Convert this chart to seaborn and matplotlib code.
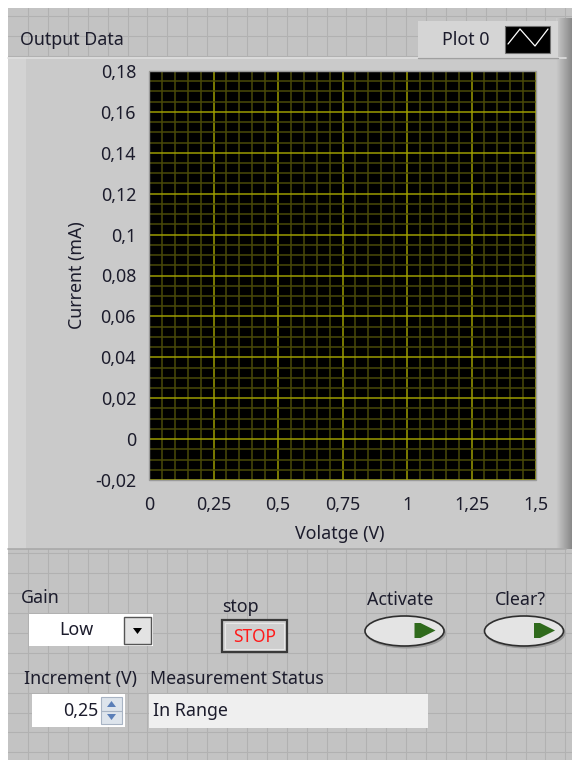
import numpy as np
import pandas as pd
import matplotlib
matplotlib.use("Agg")
import matplotlib.pyplot as plt
import seaborn as sns
from matplotlib.patches import Rectangle, Ellipse, Polygon
from matplotlib.ticker import MultipleLocator

# --- data (graph is empty: no points acquired yet) ---
voltage = []
current = []
x_ticks = [0, 0.25, 0.5, 0.75, 1.0, 1.25, 1.5]
x_labels = ["0", "0,25", "0,5", "0,75", "1", "1,25", "1,5"]
y_ticks = [-0.02, 0, 0.02, 0.04, 0.06, 0.08, 0.1, 0.12, 0.14, 0.16, 0.18]
y_labels = ["-0,02", "0", "0,02", "0,04", "0,06", "0,08", "0,1",
            "0,12", "0,14", "0,16", "0,18"]
graph_title = "Output Data"
legend_name = "Plot 0"
x_title = "Volatge (V)"
y_title = "Current (mA)"
gain_value = "Low"
increment_value = "0,25"
status_text = "In Range"

sns.set_style("white")
plt.rcParams["font.family"] = ["Noto Sans", "DejaVu Sans"]
FS = 12.8
plt.rcParams["font.size"] = FS
TXT = "#1c1c2c"

W, H = 572, 760
fig = plt.figure(figsize=(W / 100, H / 100), dpi=100)
fig.patch.set_facecolor("white")

# background panel in pixel coords
bg = fig.add_axes([0, 0, 1, 1])
bg.set_xlim(0, W)
bg.set_ylim(H, 0)
bg.axis("off")
bg.set_zorder(0)

bg.add_patch(Rectangle((8, 8), W - 8, H - 8, color="#c3c3c3", lw=0, zorder=0.1))
for gx in np.arange(28, W, 19.9):
    bg.plot([gx, gx], [8, H], color="#b1b1b1", lw=0.8, zorder=0.5)
for gy in np.arange(16, H, 19.9):
    bg.plot([8, W], [gy, gy], color="#b1b1b1", lw=0.8, zorder=0.5)

# graph frame
bg.add_patch(Rectangle((8, 57), 558, 492, color="#cacaca", lw=0))
bg.add_patch(Rectangle((8, 57), 18, 492, color="#d3d3d3", lw=0))
bg.plot([8, 566], [57.5, 57.5], color="#dedede", lw=1.2)
bg.plot([8, 566], [548.5, 548.5], color="#a9a9a9", lw=1.2)
shade = np.linspace(0, 1, 16)
for i, s in enumerate(shade):
    c = 0.79 - 0.25 * s
    bg.add_patch(Rectangle((556 + i, 18), 1, 531, color=(c, c, c), lw=0))

# legend box
bg.add_patch(Rectangle((418, 21), 140, 37, color="#d5d5d5", lw=0, zorder=1.5))
bg.plot([418, 558], [57.5, 57.5], color="#a0a0a0", lw=1, zorder=2)
bg.text(466, 40, legend_name, ha="center", va="center", color=TXT)
bg.add_patch(Rectangle((505, 26), 45, 27, color="black", lw=0, zorder=2))
bg.add_patch(Rectangle((505, 26), 45, 27, fill=False, ec="#707070", lw=0.8, zorder=2))
bg.plot([508, 520, 535, 548], [44, 29, 46, 29], color="white", lw=0.9, zorder=3)

bg.text(20, 40, graph_title, ha="left", va="center", color=TXT)

# --- the graph ---
ax = fig.add_axes([149 / W, 1 - 480 / H, 387 / W, 409 / H])
ax.set_zorder(2)
ax.set_facecolor("black")
sns.lineplot(x=voltage, y=current, ax=ax, color="white")
ax.set_xlim(0, 1.5)
ax.set_ylim(-0.02, 0.18)
ax.set_xticks(x_ticks)
ax.set_xticklabels(x_labels)
ax.set_yticks(y_ticks)
ax.set_yticklabels(y_labels)
ax.xaxis.set_minor_locator(MultipleLocator(0.05))
ax.yaxis.set_minor_locator(MultipleLocator(0.005))
ax.grid(which="minor", color="#4a4a08", lw=1.1)
ax.grid(which="major", color="#9c9c00", lw=1.1)
ax.set_axisbelow(True)
for side in ["top", "right", "bottom", "left"]:
    ax.spines[side].set_visible(False)
ax.spines["bottom"].set_position(("outward", 2))
ax.spines["left"].set_position(("outward", 1.5))
ax.tick_params(which="major", direction="out", length=5.8, width=1.3,
               color="#333333", labelcolor=TXT, labelsize=FS)
ax.tick_params(axis="x", pad=3.5)
ax.tick_params(axis="y", pad=2)
ax.tick_params(which="minor", length=0)
ax.add_patch(Rectangle((0, 0), 1, 1, transform=ax.transAxes, fill=False,
                       ec="#9a9a9a", lw=1, clip_on=False, zorder=5))
ax.set_xlabel(x_title, color=TXT, fontsize=FS)
ax.set_ylabel(y_title, color=TXT, fontsize=FS)
ax.xaxis.set_label_coords(0.494, -0.11)
ax.yaxis.set_label_coords(-0.162, 0.5)

# --- front panel controls ---
bg.text(21, 598, "Gain", ha="left", va="center", color=TXT)
bg.add_patch(Rectangle((29, 614), 124, 32, color="white", lw=0))
bg.text(76, 630, gain_value, ha="center", va="center", color=TXT)
bg.add_patch(Rectangle((124, 617), 27, 27, fc="#e3e3e3", ec="#555555", lw=1))
bg.add_patch(Polygon([[133, 628], [142, 628], [137.5, 634]], color="black", lw=0))

bg.text(222, 607, "stop", ha="left", va="center", color=TXT)
bg.add_patch(Rectangle((222, 620), 65, 32, fc="#cfcfcf", ec="#3a3a3a", lw=1.6))
bg.add_patch(Rectangle((225, 623), 59, 26, fill=False, ec="#e8e8e8", lw=0.8))
bg.text(254.5, 636.5, "STOP", ha="center", va="center", color="#ff1a1a",
        fontsize=12.5)

for cx, label in [(404.5, "Activate"), (524, "Clear?")]:
    bg.text(cx - 4, 600, label, ha="center", va="center", color=TXT)
    bg.add_patch(Ellipse((cx + 1.5, 633), 80, 31, color="#9a9a9a", lw=0))
    bg.add_patch(Ellipse((cx, 631), 79, 30, fc="#e4e4e4", ec="#2e2e2e", lw=1.2))
    tx = cx + 10
    bg.add_patch(Polygon([[tx, 623], [tx + 6, 623], [tx + 21, 630.5],
                          [tx + 6, 638], [tx, 638]], color="#2f6a1c", lw=0))

bg.text(24, 679, "Increment (V)", ha="left", va="center", color=TXT)
bg.text(150, 679, "Measurement Status", ha="left", va="center", color=TXT)
bg.add_patch(Rectangle((32, 694), 93, 33, color="white", lw=0))
bg.text(98, 711, increment_value, ha="right", va="center", color=TXT)
bg.add_patch(Rectangle((101, 697), 21, 27, fc="#dde4ec", ec="#a8b4c4", lw=0.8))
bg.plot([101, 122], [710.5, 710.5], color="#a8b4c4", lw=0.8)
bg.add_patch(Polygon([[107, 707], [116, 707], [111.5, 701]], color="#5b7fb8", lw=0))
bg.add_patch(Polygon([[107, 714], [116, 714], [111.5, 720]], color="#5b7fb8", lw=0))
bg.add_patch(Rectangle((149, 694), 279, 34, color="#efefef", lw=0))
bg.text(153, 711, status_text, ha="left", va="center", color=TXT)

fig.savefig("out.png", dpi=100)
